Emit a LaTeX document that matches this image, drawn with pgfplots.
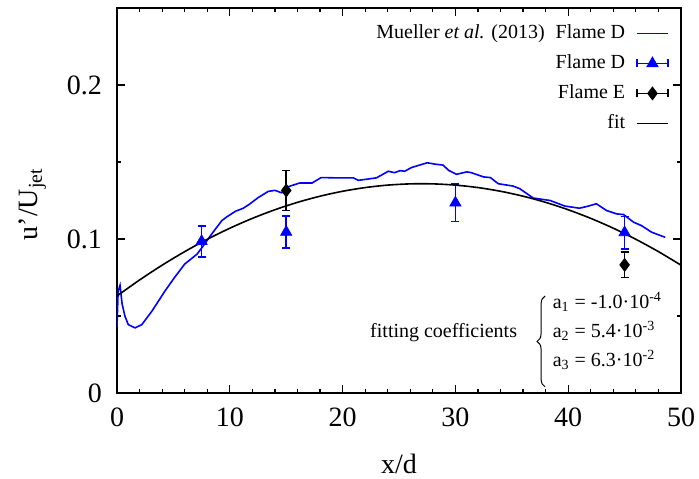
\documentclass[border=0pt]{standalone}
\usepackage{fontspec}
\setmainfont{Liberation Serif}
\usepackage{pgfplots}
\pgfplotsset{compat=1.18}
\usetikzlibrary{decorations.pathreplacing}

\pgfplotsset{
  errlegend/.style={legend image code/.code={
    \draw[#1, line width=0.8pt] (0pt,-2pt) -- (0pt,2pt) (0pt,0pt) -- (15.5pt,0pt) (15.5pt,-2pt) -- (15.5pt,2pt);
    \fill[#1] (7.75pt,0pt) circle (0pt);
  }},
}

\begin{document}
\begin{tikzpicture}
\useasboundingbox (-58.5pt,-42.5pt) rectangle (291pt,196.5pt);
\begin{axis}[
  scale only axis, width=282pt, height=192.5pt,
  xmin=0, xmax=50, ymin=0, ymax=0.25,
  xtick={0,10,20,30,40,50}, ytick={0,0.1,0.2},
  minor x tick num=4, minor y tick num=1,
  major tick length=4pt, minor tick length=2pt,
  tick align=inside,
  scaled y ticks=false,
  /pgf/number format/assume math mode=true,
  tick label style={font=\fontsize{14}{16}\selectfont},
  xticklabel style={yshift=-4pt},
  yticklabel style={xshift=-4pt},
  label style={font=\fontsize{14}{16}\selectfont},
  xlabel={x/d},
  ylabel={u’/U\textsubscript{jet}},
  xlabel style={at={(axis description cs:0.5,-0.185)}, anchor=center},
  ylabel style={at={(axis description cs:-0.150,0.49)}, anchor=center},
  axis line style={line width=0.75pt},
  every tick/.style={black, line width=0.6pt},
  legend style={draw=none, fill=none, inner sep=0pt,
    font=\fontsize{10}{12}\selectfont,
    nodes={text height=7pt, text depth=2pt, inner sep=1pt},
    at={(axis description cs:0.979,0.9636)}, anchor=north east,
    row sep=4pt, column sep=4.5pt},
  legend cell align=right,
  legend plot pos=right,
]

\addplot[blue, line width=0.8pt, mark=none,
  legend image code/.code={\draw[blue, line width=0.8pt] (0pt,0pt) -- (15.5pt,0pt);}] coordinates {
(0,0.043) (0.1,0.066) (0.27,0.070) (0.45,0.058) (0.7,0.050) (1.0,0.0444) (1.6,0.0423) (2.2,0.0444)
(3.1,0.0532) (4.25,0.0662) (5.1,0.075) (6.0,0.0837) (7.1,0.0902) (7.65,0.0956) (8.4,0.1033)
(9.3,0.112) (9.7,0.1142) (10.5,0.118) (11.2,0.120) (11.8,0.1229) (12.5,0.1268) (13.4,0.1309)
(14.0,0.1316) (14.6,0.1300) (15.2,0.1340) (16.2,0.1364) (17.3,0.1364) (18.1,0.1399)
(19.5,0.1397) (20.95,0.1397) (21.4,0.1381) (23.0,0.1397) (24.05,0.1440) (24.6,0.1431)
(25.1,0.1444) (25.5,0.1440) (26.1,0.1464) (27.5,0.1495) (28.2,0.1486) (28.9,0.1480)
(29.4,0.1446) (30.1,0.1420) (31.0,0.1436) (31.4,0.1431) (32.5,0.1403) (33.1,0.1399)
(33.8,0.1359) (35.1,0.1344) (35.7,0.1327) (36.9,0.1266) (38.4,0.1250) (39.7,0.1214)
(41.0,0.1200) (41.8,0.1214) (42.5,0.1229) (43.4,0.1185) (44.3,0.1163) (44.9,0.1159)
(45.8,0.1109) (46.5,0.1087) (47.4,0.1044) (48.6,0.1011)
};
\addlegendentry{Mueller \textit{et al.} (2013)\hspace{5.5pt}Flame D}

\addplot[blue, only marks, mark=triangle*, mark size=3.2pt,
  legend image code/.code={
    \draw[blue, line width=0.8pt] (0pt,-2pt) -- (0pt,2pt) (0pt,0pt) -- (15.5pt,0pt) (15.5pt,-2pt) -- (15.5pt,2pt);
    \draw[blue] plot[only marks, mark=triangle*, mark size=3.2pt] coordinates {(7.75pt,0pt)};},
  error bars/.cd, y dir=both, y explicit,
  error bar style={line width=0.8pt, blue},
  error mark options={rotate=90, mark size=2pt, line width=0.8pt, blue}]
coordinates {
(7.5,0.0985) +- (0,0.0100)
(15,0.1045) +- (0,0.0103)
(30,0.1235) +- (0,0.0122)
(45,0.1042) +- (0,0.0105)
};
\addlegendentry{Flame D}

\addplot[black, only marks, mark=diamond*, mark size=3.2pt,
  legend image code/.code={
    \draw[black, line width=0.8pt] (0pt,-2pt) -- (0pt,2pt) (0pt,0pt) -- (15.5pt,0pt) (15.5pt,-2pt) -- (15.5pt,2pt);
    \draw[black] plot[only marks, mark=diamond*, mark size=3.2pt] coordinates {(7.75pt,0pt)};},
  error bars/.cd, y dir=both, y explicit,
  error bar style={line width=0.8pt, black},
  error mark options={rotate=90, mark size=2pt, line width=0.8pt, black}]
coordinates {
(15,0.1315) +- (0,0.0130)
(45,0.0832) +- (0,0.0082)
};
\addlegendentry{Flame E}

\addplot[black, line width=0.8pt, mark=none, smooth,
  legend image code/.code={\draw[black, line width=0.8pt] (0pt,0pt) -- (15.5pt,0pt);}] coordinates {
(0,0.0630) (2,0.0734) (4,0.0830) (6,0.0918) (8,0.0998) (10,0.1070) (12,0.1134)
(14,0.1190) (16,0.1238) (18,0.1278) (20,0.1310) (22,0.1334) (24,0.1350) (26,0.1358)
(28,0.1358) (30,0.1350) (32,0.1334) (34,0.1310) (36,0.1278) (38,0.1238) (40,0.1190)
(42,0.1134) (44,0.1070) (46,0.0998) (48,0.0918) (50,0.0830)
};
\addlegendentry{fit}

\node[anchor=east, font=\fontsize{10}{12}\selectfont, inner sep=0pt] at (axis cs:35.5,0.039) {fitting coefficients};
\draw[line width=0.5pt, decorate, decoration={brace, amplitude=4pt}] (axis cs:37.95,0.004) -- (axis cs:37.95,0.063);
\node[anchor=base west, font=\fontsize{10}{12}\selectfont, inner sep=0pt] at (axis cs:38.6,0.0550) {a\textsubscript{1} = -1.0·10\textsuperscript{-4}};
\node[anchor=base west, font=\fontsize{10}{12}\selectfont, inner sep=0pt] at (axis cs:38.6,0.0360) {a\textsubscript{2} = 5.4·10\textsuperscript{-3}};
\node[anchor=base west, font=\fontsize{10}{12}\selectfont, inner sep=0pt] at (axis cs:38.6,0.0170) {a\textsubscript{3} = 6.3·10\textsuperscript{-2}};
\end{axis}
\end{tikzpicture}
\end{document}
